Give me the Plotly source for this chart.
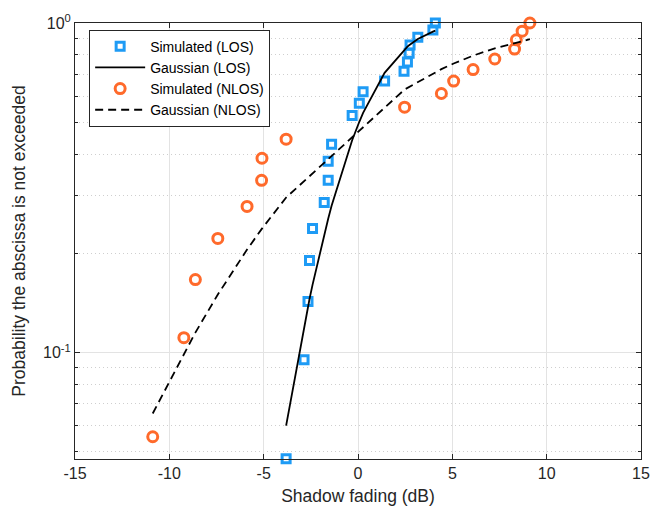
import math
import plotly.graph_objects as go

# ---- data ----
los_x = [-3.81, -2.86, -2.65, -2.57, -2.41, -1.79, -1.58, -1.58, -1.40, -0.31,
         0.07, 0.27, 1.41, 2.44, 2.62, 2.71, 2.76, 3.17, 3.97, 4.10]
los_p = [0.0477, 0.0952, 0.1429, 0.1905, 0.2381, 0.2857, 0.3333, 0.3810, 0.4286, 0.5238,
         0.5714, 0.6190, 0.6667, 0.7143, 0.7619, 0.8095, 0.8571, 0.9048, 0.9524, 1.0]
los_gauss = [0.0601, 0.1204, 0.1383, 0.1455, 0.1606, 0.2288, 0.2550, 0.2550, 0.2790, 0.4409,
             0.5016, 0.5336, 0.7061, 0.8305, 0.8480, 0.8563, 0.8608, 0.8942, 0.9418, 0.9476]

nlos_x = [-10.88, -9.23, -8.62, -7.43, -5.88, -5.11, -5.09, -3.81, 2.47,
          4.42, 5.07, 6.10, 7.25, 8.30, 8.39, 8.70, 9.11]
nlos_p = [0.0556, 0.1111, 0.1667, 0.2222, 0.2778, 0.3333, 0.3889, 0.4444, 0.5556,
          0.6111, 0.6667, 0.7222, 0.7778, 0.8333, 0.8889, 0.9444, 1.0]
nlos_gauss = [0.0654, 0.0996, 0.1151, 0.1501, 0.2055, 0.2370, 0.2378, 0.2956, 0.6285,
              0.7244, 0.7536, 0.7962, 0.8379, 0.8709, 0.8735, 0.8822, 0.8929]

x_ticks = [-15, -10, -5, 0, 5, 10, 15]
x_ticktext = ["-15", "-10", "-5", "0", "5", "10", "15"]
y_ticks = [0.1, 1]
y_ticktext = ["10<sup>-1</sup>", "10<sup>0</sup>"]
y_minor = [0.05, 0.06, 0.07, 0.08, 0.09, 0.2, 0.3, 0.4, 0.5, 0.6, 0.7, 0.8, 0.9]
y_min = 0.0476

BLUE = "#1E9BF5"
ORANGE = "#FF6A2B"
AX = "#262626"
FONT = "Liberation Sans, Arial, sans-serif"

fig = go.Figure()
fig.add_trace(go.Scatter(
    x=los_x, y=los_p, mode="markers", name="Simulated (LOS)",
    marker=dict(symbol="square-open", size=8, color=BLUE, line=dict(width=3, color=BLUE)),
    cliponaxis=False))
fig.add_trace(go.Scatter(
    x=los_x, y=los_gauss, mode="lines", name="Gaussian (LOS)",
    line=dict(color="black", width=1.8)))
fig.add_trace(go.Scatter(
    x=nlos_x, y=nlos_p, mode="markers", name="Simulated (NLOS)",
    marker=dict(symbol="circle-open", size=10, color=ORANGE, line=dict(width=3, color=ORANGE)),
    cliponaxis=False))
fig.add_trace(go.Scatter(
    x=nlos_x, y=nlos_gauss, mode="lines", name="Gaussian (NLOS)",
    line=dict(color="black", width=1.8, dash="8px,5px")))

fig.update_layout(
    width=662, height=514,
    margin=dict(l=75, r=21, t=16, b=53),
    paper_bgcolor="white", plot_bgcolor="white",
    font=dict(family=FONT, color=AX, size=16),
    showlegend=True,
    legend=dict(
        x=0.025, y=0.985, xanchor="left", yanchor="top",
        bgcolor="white", bordercolor=AX, borderwidth=1,
        font=dict(family=FONT, size=14, color="black"),
        tracegroupgap=0, itemwidth=50,
    ),
    xaxis=dict(
        range=[-15, 15], tickvals=x_ticks, ticktext=x_ticktext,
        ticks="inside", ticklen=5,
        tickcolor=AX, showline=True, linecolor=AX, linewidth=1, mirror="ticks",
        showgrid=True, gridcolor="#e3e3e3", gridwidth=1, zeroline=False,
        tickfont=dict(size=16, color=AX),
        title=dict(text="Shadow fading (dB)", font=dict(size=17.5, color=AX), standoff=8),
    ),
    yaxis=dict(
        type="log", range=[math.log10(y_min), 0],
        tickvals=y_ticks, ticktext=y_ticktext, ticks="inside", ticklen=5,
        tickcolor=AX, showline=True, linecolor=AX, linewidth=1, mirror="ticks",
        showgrid=True, gridcolor="#e3e3e3", gridwidth=1, zeroline=False,
        tickfont=dict(size=16, color=AX),
        minor=dict(tickvals=y_minor, ticks="inside", ticklen=3, tickcolor=AX,
                   showgrid=True, gridcolor="#cfcfcf", griddash="1px,3px", gridwidth=1),
        title=dict(text="Probability the abscissa is not exceeded",
                   font=dict(size=17.5, color=AX), standoff=12),
    ),
)

fig.write_html("out.html")
